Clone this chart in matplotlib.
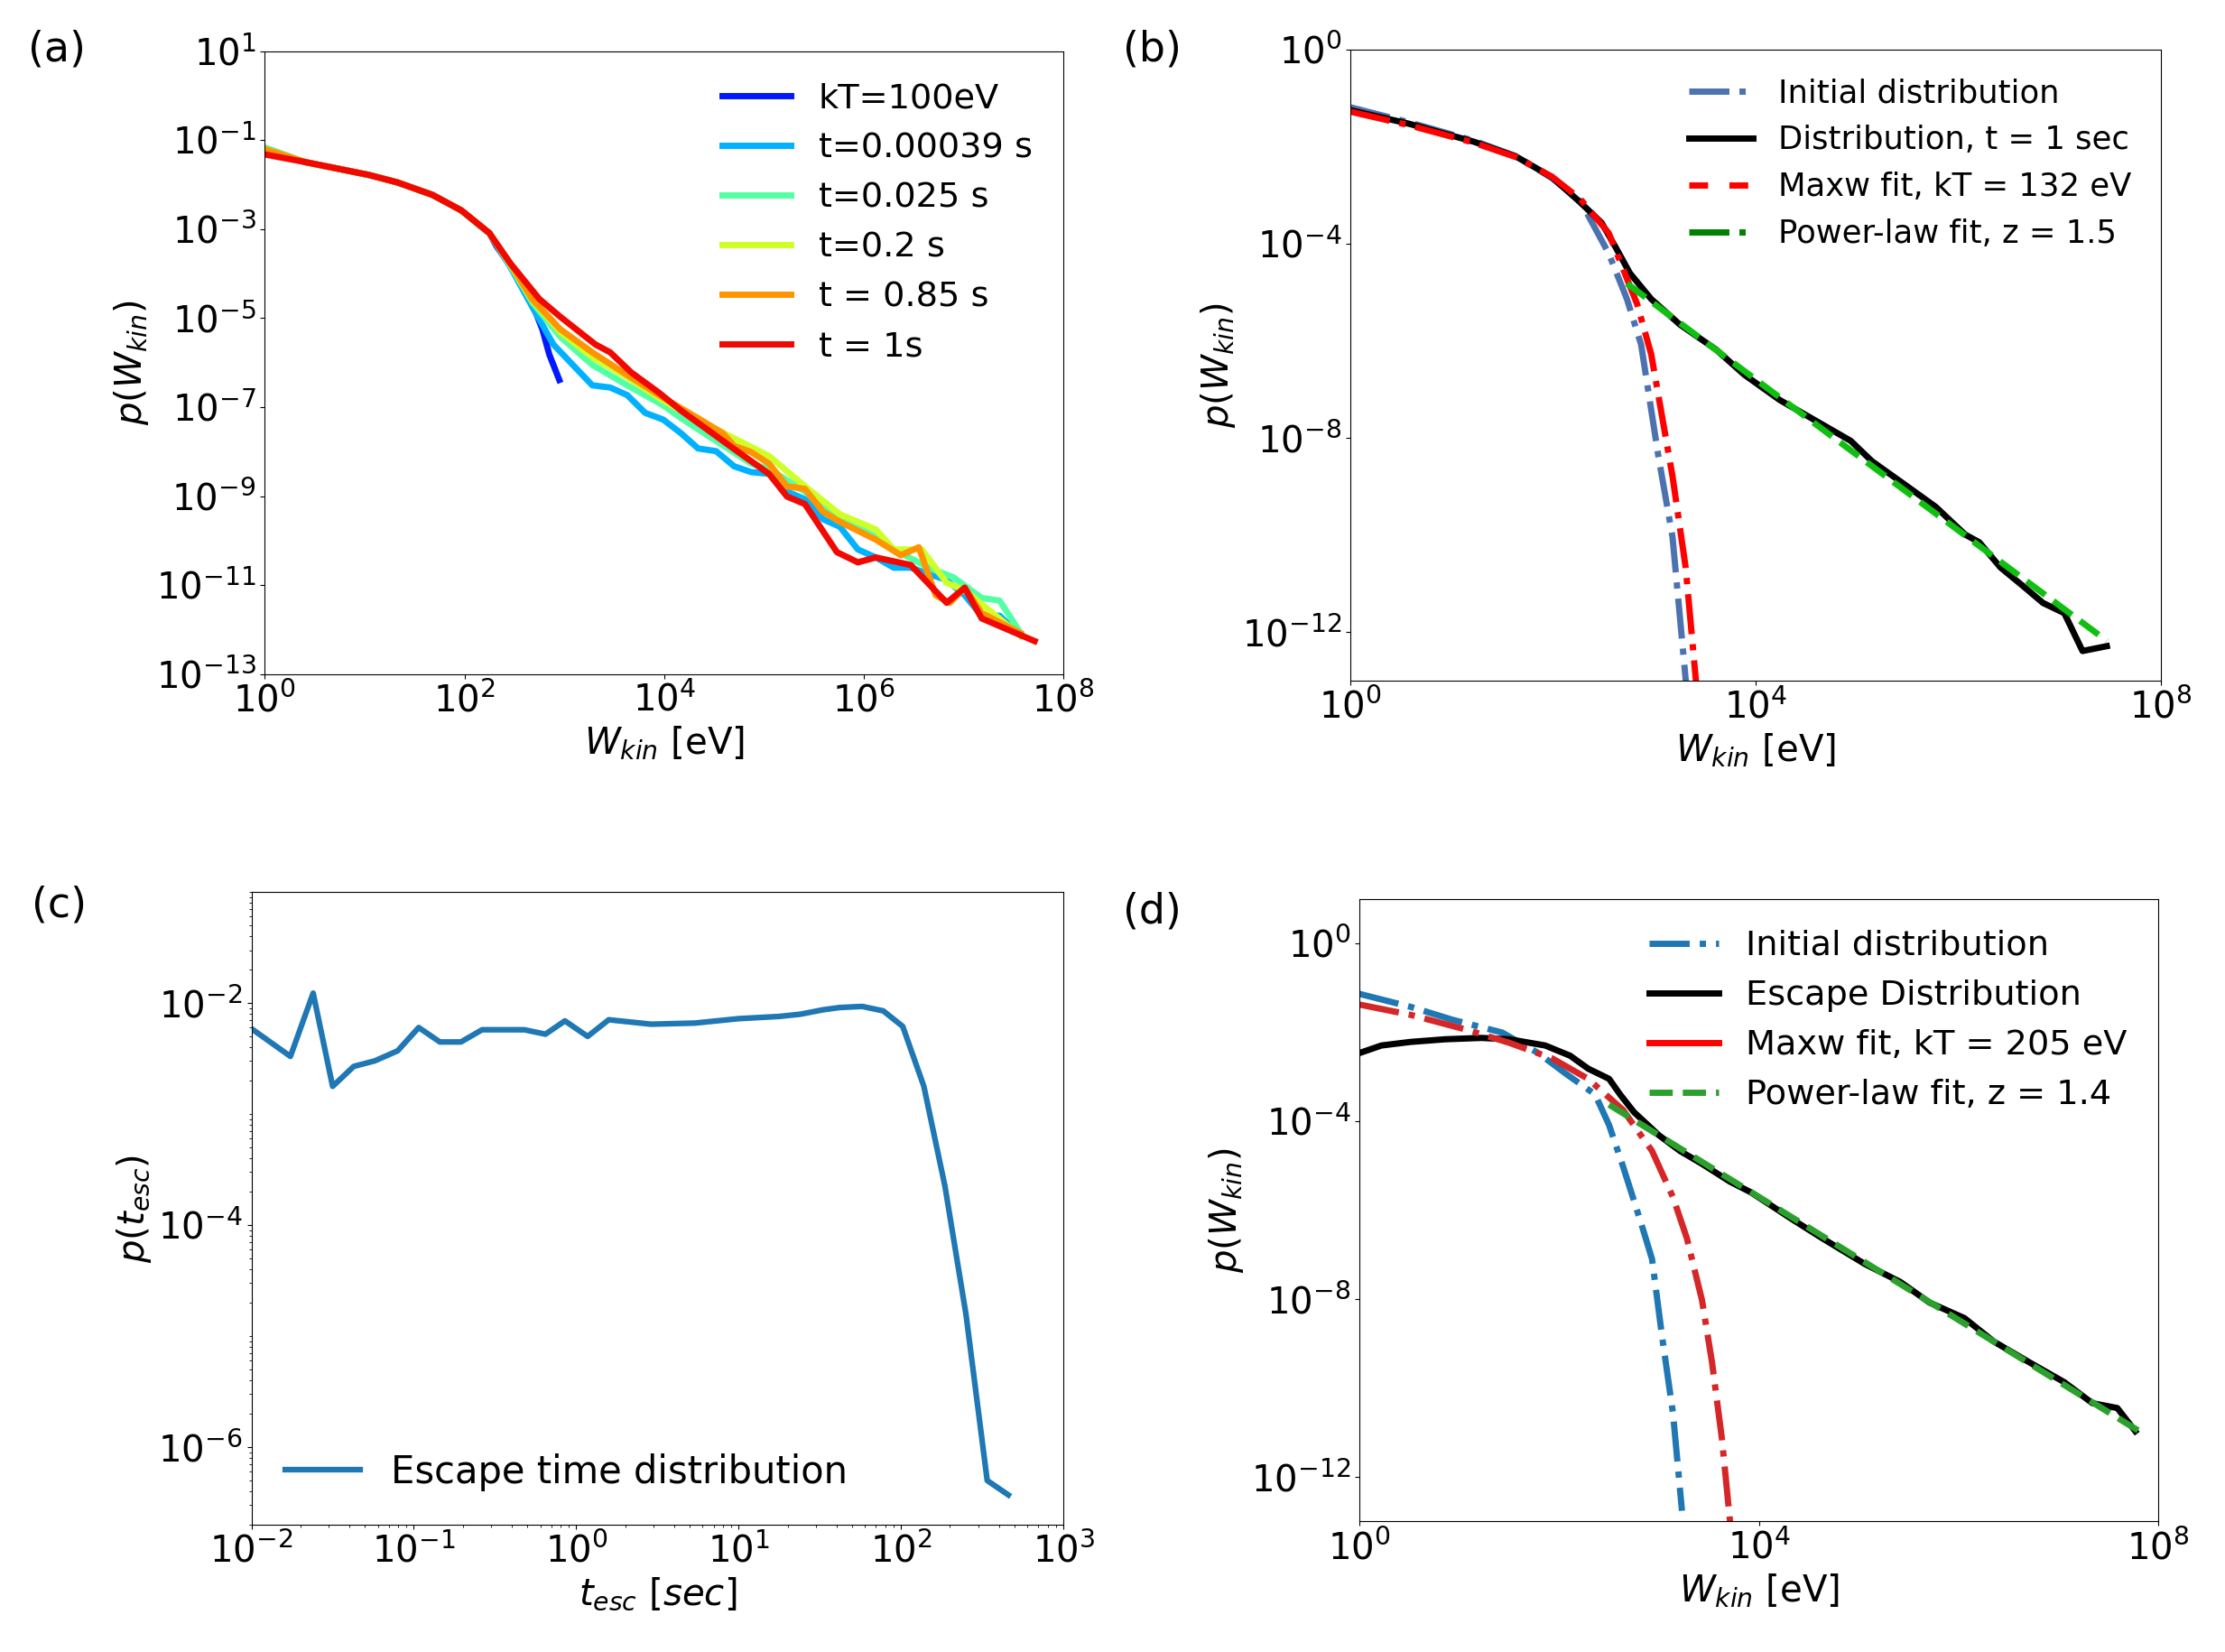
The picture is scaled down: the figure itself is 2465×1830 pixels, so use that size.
import numpy as np
import matplotlib
matplotlib.use("Agg")
import matplotlib.pyplot as plt
from matplotlib.lines import Line2D
from matplotlib.ticker import LogLocator, NullLocator, FixedLocator, NullFormatter

plt.rcParams["font.size"] = 29

# values are read as log10 of the plotted quantity
# ---- panel (a): energy distributions at several times
head_x = [0, 0.40, 1.04, 1.33, 1.68, 1.97, 2.25]
head_y = [-1.32, -1.49, -1.78, -1.95, -2.23, -2.58, -3.09]

a_labels = ["kT=100eV", "t=0.00039 s", "t=0.025 s", "t=0.2 s", "t = 0.85 s", "t = 1s"]
a_start = [-1.22, -1.17, -1.17, -1.20, -1.20, -1.32]

a_tail_x = [
    [2.32, 2.53, 2.68, 2.78, 2.85, 2.95],
    [2.46, 2.68, 2.89, 3.28, 3.46, 3.63, 3.81, 3.99, 4.17, 4.34, 4.52, 4.70, 4.87, 5.05,
     5.23, 5.41, 5.59, 5.76, 5.94, 6.12, 6.30, 6.47, 6.83, 7.01, 7.18, 7.36, 7.57],
    [2.46, 2.68, 2.96, 3.28, 3.63, 3.99, 4.17, 4.52, 4.87, 5.05, 5.41, 5.76, 6.12, 6.30,
     6.65, 6.90, 7.18, 7.36, 7.57],
    [2.46, 2.68, 2.96, 3.28, 3.63, 3.99, 4.34, 4.70, 5.05, 5.41, 5.76, 6.12, 6.30, 6.58,
     6.83, 7.01, 7.29, 7.57],
    [2.46, 2.68, 2.96, 3.28, 3.63, 3.99, 4.34, 4.59, 4.70, 4.87, 5.05, 5.23, 5.41, 5.59,
     5.76, 6.12, 6.37, 6.55, 6.72, 6.86, 7.01, 7.18, 7.57],
    [2.46, 2.75, 2.96, 3.31, 3.46, 3.67, 3.95, 4.17, 4.38, 4.73, 5.05, 5.23, 5.41, 5.73,
     5.94, 6.12, 6.47, 6.83, 7.01, 7.18, 7.71],
]
a_tail_y = [
    [-3.38, -4.05, -4.68, -5.25, -5.82, -6.39],
    [-3.85, -4.75, -5.59, -6.51, -6.56, -6.73, -7.13, -7.28, -7.59, -7.93, -7.99, -8.33,
     -8.46, -8.50, -8.90, -9.07, -9.52, -9.69, -10.20, -10.38, -10.61, -10.61, -10.89,
     -11.23, -11.69, -11.69, -12.14],
    [-3.82, -4.65, -5.42, -6.05, -6.51, -6.96, -7.25, -7.76, -8.27, -8.39, -8.90, -9.47,
     -9.92, -10.20, -10.61, -10.83, -11.29, -11.35, -12.08],
    [-3.80, -4.60, -5.31, -5.88, -6.33, -6.85, -7.30, -7.70, -8.10, -8.78, -9.41, -9.75,
     -10.20, -10.20, -10.95, -11.12, -11.63, -12.14],
    [-3.78, -4.58, -5.25, -5.77, -6.28, -6.79, -7.25, -7.59, -7.87, -8.01, -8.27, -8.78,
     -8.84, -9.35, -9.58, -9.98, -10.33, -10.15, -11.23, -11.40, -11.06, -11.63, -12.08],
    [-3.77, -4.57, -4.97, -5.59, -5.77, -6.22, -6.68, -7.08, -7.42, -7.99, -8.50, -9.01,
     -9.18, -10.26, -10.49, -10.38, -10.55, -11.40, -11.06, -11.75, -12.26],
]
a_colors = plt.cm.jet([0.15, 0.30, 0.45, 0.60, 0.75, 0.90])

# ---- panel (b)
b_init_x = [0, 0.58, 1.22, 1.64, 1.99, 2.27, 2.55, 2.73, 2.87, 3.04, 3.18, 3.32]
b_init_y = [-1.19, -1.50, -1.88, -2.20, -2.65, -3.12, -4.20, -5.14, -6.08, -8.37, -10.04, -13.2]
b_dist_x = [0, 0.58, 1.22, 1.64, 1.99, 2.27, 2.48, 2.62, 2.76, 2.97, 3.25, 3.61, 3.89, 4.24,
            4.59, 4.94, 5.15, 5.50, 5.78, 6.07, 6.21, 6.42, 6.63, 6.84, 7.05, 7.23, 7.47]
b_dist_y = [-1.25, -1.53, -1.90, -2.21, -2.63, -3.15, -3.57, -4.08, -4.61, -5.14, -5.66,
            -6.18, -6.70, -7.22, -7.64, -8.06, -8.48, -9.00, -9.42, -9.99, -10.15, -10.67,
            -11.03, -11.40, -11.61, -12.39, -12.29]
b_maxw_x = [0, 0.58, 1.22, 1.64, 1.99, 2.27, 2.55, 2.83, 2.97, 3.18, 3.31, 3.42]
b_maxw_y = [-1.28, -1.56, -1.92, -2.22, -2.62, -3.08, -3.78, -5.24, -6.28, -8.79, -10.67, -13.2]
b_pow_x = [2.73, 4.66, 7.47]
b_pow_y = [-4.82, -7.82, -12.18]

# ---- panel (c): escape time distribution
c_t = [-2.00, -1.76, -1.62, -1.50, -1.37, -1.24, -1.10, -0.97, -0.84, -0.71, -0.58, -0.45,
       -0.32, -0.19, -0.07, 0.07, 0.20, 0.46, 0.73, 1.00, 1.25, 1.38, 1.52, 1.62, 1.76,
       1.89, 2.01, 2.14, 2.27, 2.40, 2.53, 2.66]
c_p = [-2.23, -2.48, -1.91, -2.75, -2.57, -2.52, -2.43, -2.22, -2.35, -2.35, -2.24, -2.24,
       -2.24, -2.28, -2.16, -2.30, -2.15, -2.19, -2.18, -2.14, -2.12, -2.10, -2.06, -2.04,
       -2.03, -2.07, -2.21, -2.75, -3.65, -4.81, -6.30, -6.43]

# ---- panel (d)
d_init_x = [0, 0.51, 0.93, 1.43, 1.79, 2.07, 2.36, 2.50, 2.64, 2.82, 2.93, 3.03, 3.14, 3.23]
d_init_y = [-1.14, -1.43, -1.72, -2.01, -2.47, -2.94, -3.40, -4.09, -5.02, -6.29, -7.10,
            -8.83, -10.57, -12.76]
d_esc_x = [0, 0.22, 0.51, 0.86, 1.22, 1.50, 1.86, 2.11, 2.29, 2.50, 2.61, 2.75, 3.00, 3.21,
           3.43, 3.71, 3.92, 4.35, 4.64, 5.06, 5.42, 5.71, 6.06, 6.35, 6.70, 7.06, 7.34,
           7.59, 7.77]
d_esc_y = [-2.47, -2.30, -2.22, -2.16, -2.13, -2.16, -2.30, -2.53, -2.82, -3.05, -3.40,
           -3.80, -4.32, -4.67, -4.96, -5.36, -5.60, -6.23, -6.64, -7.21, -7.62, -8.08,
           -8.43, -8.95, -9.41, -9.87, -10.34, -10.45, -10.97]
d_maxw_x = [0, 0.51, 1.08, 1.50, 1.93, 2.29, 2.64, 2.93, 3.14, 3.28, 3.43, 3.53, 3.63, 3.72]
d_maxw_y = [-1.38, -1.61, -1.95, -2.24, -2.59, -3.05, -3.75, -4.67, -5.71, -6.64, -8.02,
            -9.41, -11.14, -13.2]
d_pow_x = [2.50, 5.06, 7.81]
d_pow_y = [-3.63, -7.17, -10.97]


def p10(v):
    return np.power(10.0, v)


fig = plt.figure(figsize=(24.65, 18.3), dpi=100)
ax_a = fig.add_axes([0.119, 0.592, 0.359, 0.377])
ax_b = fig.add_axes([0.607, 0.588, 0.364, 0.382])
ax_c = fig.add_axes([0.113, 0.077, 0.365, 0.383])
ax_d = fig.add_axes([0.611, 0.079, 0.359, 0.377])

# (a)
for lab, y0, tx, ty, col in zip(a_labels, a_start, a_tail_x, a_tail_y, a_colors):
    xs = head_x + tx
    ys = [y0] + head_y[1:] + ty
    ax_a.plot(p10(xs), p10(ys), color=col, lw=5, label=lab)
ax_a.set_xscale("log")
ax_a.set_yscale("log")
ax_a.set_xlim(1, 1e8)
ax_a.set_ylim(1e-13, 1e1)
ax_a.xaxis.set_major_locator(FixedLocator([1e0, 1e2, 1e4, 1e6, 1e8]))
ax_a.yaxis.set_major_locator(FixedLocator([10.0 ** k for k in range(1, -14, -2)]))
ax_a.legend(loc="upper right", frameon=False, fontsize=27.5)
ax_a.set_xlabel("$W_{kin}$ [eV]")
ax_a.set_ylabel("$p(W_{kin})$")

# (b)
ax_b.plot(p10(b_init_x), p10(b_init_y), color="#4c72b0", lw=5, ls="-.")
ax_b.plot(p10(b_dist_x), p10(b_dist_y), color="black", lw=5)
ax_b.plot(p10(b_maxw_x), p10(b_maxw_y), color="#ff0000", lw=5, ls="-.")
ax_b.plot(p10(b_pow_x), p10(b_pow_y), color="#10c010", lw=5, ls="--")
ax_b.set_xscale("log")
ax_b.set_yscale("log")
ax_b.set_xlim(1, 1e8)
ax_b.set_ylim(1e-13, 1)
ax_b.xaxis.set_major_locator(FixedLocator([1e0, 1e4, 1e8]))
ax_b.yaxis.set_major_locator(FixedLocator([1e0, 1e-4, 1e-8, 1e-12]))
b_handles = [
    Line2D([], [], color="#4c72b0", lw=5, ls="-."),
    Line2D([], [], color="black", lw=5),
    Line2D([], [], color="#ff0000", lw=5, dashes=(3.0, 3.4)),
    Line2D([], [], color="#008000", lw=5, ls="-."),
]
ax_b.legend(b_handles, ["Initial distribution", "Distribution, t = 1 sec",
                        "Maxw fit, kT = 132 eV", "Power-law fit, z = 1.5"],
            loc="upper right", frameon=False, fontsize=25.5)
ax_b.set_xlabel("$W_{kin}$ [eV]")
ax_b.set_ylabel("$p(W_{kin})$")

# (c)
ax_c.plot(p10(c_t), p10(c_p), color="#1f77b4", lw=4.5, label="Escape time distribution")
ax_c.set_xscale("log")
ax_c.set_yscale("log")
ax_c.set_xlim(1e-2, 1e3)
ax_c.set_ylim(2.0e-7, 1e-1)
ax_c.yaxis.set_major_locator(FixedLocator([1e-2, 1e-4, 1e-6]))
ax_c.yaxis.set_minor_locator(LogLocator(base=10, subs=np.arange(1, 10), numticks=30))
ax_c.xaxis.set_minor_locator(LogLocator(base=10, subs=np.arange(2, 10), numticks=30))
ax_c.yaxis.set_minor_formatter(NullFormatter())
ax_c.xaxis.set_minor_formatter(NullFormatter())
ax_c.legend(loc="lower left", frameon=False, fontsize=30)
ax_c.set_xlabel("$t_{esc}\\ [sec]$")
ax_c.set_ylabel("$p(t_{esc})$")

# (d)
ax_d.plot(p10(d_init_x), p10(d_init_y), color="#1f77b4", lw=5, ls="-.")
ax_d.plot(p10(d_esc_x), p10(d_esc_y), color="black", lw=5)
ax_d.plot(p10(d_maxw_x), p10(d_maxw_y), color="#d62728", lw=5, ls="-.")
ax_d.plot(p10(d_pow_x), p10(d_pow_y), color="#2ca02c", lw=5, ls="--")
ax_d.set_xscale("log")
ax_d.set_yscale("log")
ax_d.set_xlim(1, 1e8)
ax_d.set_ylim(1e-13, 1e1)
ax_d.xaxis.set_major_locator(FixedLocator([1e0, 1e4, 1e8]))
ax_d.yaxis.set_major_locator(FixedLocator([1e0, 1e-4, 1e-8, 1e-12]))
d_handles = [
    Line2D([], [], color="#1f77b4", lw=5, ls="-."),
    Line2D([], [], color="black", lw=5),
    Line2D([], [], color="#ff0000", lw=5),
    Line2D([], [], color="#2ca02c", lw=5, ls="--"),
]
ax_d.legend(d_handles, ["Initial distribution", "Escape Distribution",
                        "Maxw fit, kT = 205 eV", "Power-law fit, z = 1.4"],
            loc="upper right", frameon=False, fontsize=27.5)
ax_d.set_xlabel("$W_{kin}$ [eV]")
ax_d.set_ylabel("$p(W_{kin})$")

for ax in (ax_a, ax_b, ax_d):
    ax.xaxis.set_minor_locator(NullLocator())
    ax.yaxis.set_minor_locator(NullLocator())

fig.text(0.0126, 0.970, "(a)", va="center", ha="left", fontsize=33)
fig.text(0.5045, 0.970, "(b)", va="center", ha="left", fontsize=33)
fig.text(0.0142, 0.452, "(c)", va="center", ha="left", fontsize=33)
fig.text(0.5045, 0.448, "(d)", va="center", ha="left", fontsize=33)

fig.savefig("out.png", dpi=100)
